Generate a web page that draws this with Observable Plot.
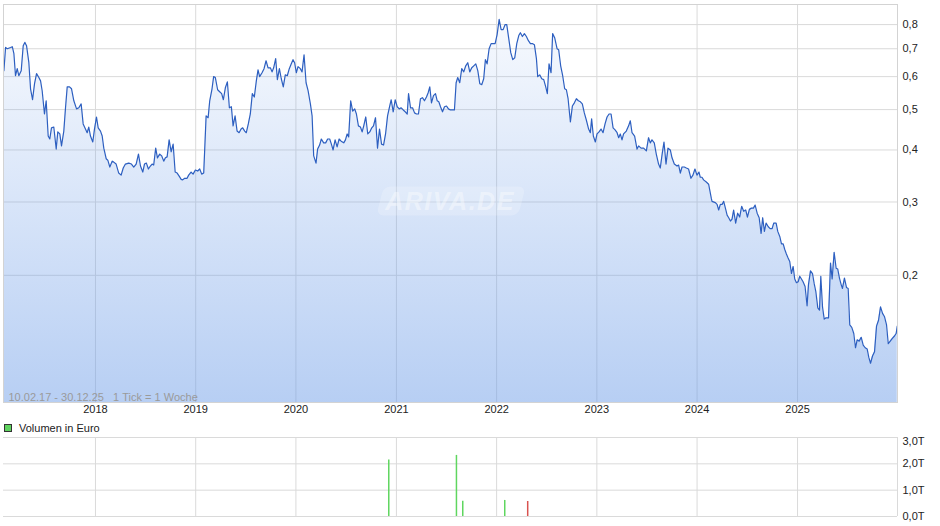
<!DOCTYPE html>
<html><head><meta charset="utf-8">
<script src="https://cdn.jsdelivr.net/npm/d3@7"></script>
<script src="https://cdn.jsdelivr.net/npm/@observablehq/plot@0.6"></script>
<style>
body{margin:0;background:#fff;font-family:"Liberation Sans",Arial,sans-serif;}
#wrap{position:relative;width:940px;height:526px;overflow:hidden}
#main{position:absolute;left:0;top:0}
#legend{position:absolute;left:4px;top:421px;height:14px;font-size:11px;color:#222;display:flex;align-items:center;z-index:2}
#legend .sw{display:inline-block;width:6px;height:6px;background:#5fd35f;border:1px solid #333;margin-right:7px}
#vol{position:absolute;left:0;top:430px;z-index:1}
</style></head><body>
<div id="wrap"><div id="main"></div><div id="vol"></div><div id="legend"><span class="sw"></span><span id="legtext"></span></div></div>
<script>
// ---- data (decimal year, price in EUR) ----
const priceSeries = [
[2017.086,0.620],[2017.103,0.705],[2017.120,0.700],[2017.153,0.705],[2017.170,0.708],[2017.186,0.681],[2017.202,0.603],[2017.219,0.627],[2017.235,0.603],[2017.259,0.620],
[2017.279,0.712],[2017.295,0.725],[2017.312,0.712],[2017.335,0.649],[2017.352,0.561],[2017.372,0.528],[2017.392,0.577],[2017.412,0.610],[2017.435,0.597],[2017.452,0.586],
[2017.468,0.555],[2017.491,0.488],[2017.508,0.525],[2017.528,0.432],[2017.544,0.425],[2017.561,0.452],[2017.584,0.454],[2017.608,0.402],[2017.624,0.442],[2017.644,0.437],
[2017.661,0.409],[2017.684,0.444],[2017.701,0.505],[2017.718,0.567],[2017.741,0.567],[2017.761,0.561],[2017.784,0.525],[2017.811,0.502],[2017.834,0.505],[2017.857,0.516],
[2017.877,0.462],[2017.900,0.449],[2017.917,0.440],[2017.933,0.454],[2017.950,0.432],[2017.973,0.418],[2017.990,0.449],[2018.010,0.480],[2018.027,0.452],[2018.050,0.444],
[2018.067,0.432],[2018.083,0.404],[2018.107,0.381],[2018.123,0.378],[2018.143,0.364],[2018.167,0.376],[2018.182,0.374],[2018.206,0.370],[2018.232,0.352],[2018.256,0.348],
[2018.277,0.362],[2018.299,0.370],[2018.332,0.372],[2018.359,0.370],[2018.382,0.364],[2018.406,0.370],[2018.429,0.391],[2018.449,0.366],[2018.472,0.354],[2018.489,0.370],
[2018.508,0.372],[2018.528,0.360],[2018.548,0.366],[2018.565,0.370],[2018.581,0.368],[2018.601,0.404],[2018.618,0.383],[2018.641,0.391],[2018.661,0.387],[2018.681,0.376],
[2018.698,0.383],[2018.715,0.385],[2018.735,0.423],[2018.755,0.396],[2018.775,0.413],[2018.795,0.354],[2018.815,0.352],[2018.835,0.346],[2018.855,0.340],[2018.870,0.339],
[2018.890,0.342],[2018.914,0.342],[2018.930,0.348],[2018.954,0.354],[2018.974,0.350],[2018.997,0.358],[2019.020,0.356],[2019.040,0.360],[2019.060,0.350],[2019.080,0.352],
[2019.104,0.483],[2019.124,0.478],[2019.140,0.525],[2019.163,0.561],[2019.179,0.600],[2019.196,0.597],[2019.219,0.558],[2019.239,0.552],[2019.259,0.546],[2019.276,0.528],
[2019.296,0.564],[2019.316,0.583],[2019.336,0.505],[2019.356,0.508],[2019.373,0.457],[2019.393,0.483],[2019.413,0.444],[2019.433,0.440],[2019.453,0.449],[2019.469,0.452],
[2019.489,0.444],[2019.505,0.440],[2019.525,0.462],[2019.545,0.488],[2019.565,0.546],[2019.585,0.536],[2019.605,0.586],[2019.622,0.623],[2019.638,0.600],[2019.662,0.613],
[2019.682,0.627],[2019.702,0.655],[2019.722,0.630],[2019.745,0.630],[2019.762,0.616],[2019.778,0.630],[2019.798,0.663],[2019.815,0.590],[2019.835,0.627],[2019.854,0.593],
[2019.874,0.567],[2019.894,0.606],[2019.914,0.603],[2019.934,0.627],[2019.954,0.644],[2019.971,0.659],[2019.987,0.648],[2020.004,0.613],[2020.021,0.634],[2020.044,0.627],
[2020.061,0.616],[2020.081,0.677],[2020.101,0.580],[2020.121,0.555],[2020.144,0.516],[2020.161,0.483],[2020.177,0.387],[2020.200,0.372],[2020.216,0.402],[2020.236,0.411],
[2020.253,0.425],[2020.276,0.416],[2020.296,0.416],[2020.316,0.425],[2020.336,0.425],[2020.353,0.413],[2020.370,0.400],[2020.390,0.423],[2020.410,0.407],[2020.430,0.425],
[2020.450,0.420],[2020.476,0.416],[2020.493,0.423],[2020.510,0.437],[2020.525,0.430],[2020.545,0.525],[2020.565,0.496],[2020.585,0.502],[2020.602,0.488],[2020.622,0.457],
[2020.642,0.454],[2020.659,0.442],[2020.675,0.457],[2020.695,0.480],[2020.715,0.437],[2020.735,0.442],[2020.755,0.452],[2020.772,0.457],[2020.792,0.478],[2020.812,0.404],
[2020.832,0.449],[2020.852,0.413],[2020.872,0.411],[2020.892,0.437],[2020.912,0.483],[2020.932,0.508],[2020.948,0.528],[2020.968,0.494],[2020.988,0.528],[2021.008,0.508],
[2021.028,0.502],[2021.048,0.505],[2021.068,0.499],[2021.088,0.494],[2021.108,0.488],[2021.121,0.546],[2021.141,0.505],[2021.161,0.505],[2021.181,0.491],[2021.200,0.488],
[2021.220,0.488],[2021.240,0.531],[2021.260,0.534],[2021.280,0.525],[2021.300,0.536],[2021.317,0.549],[2021.333,0.567],[2021.350,0.519],[2021.370,0.540],[2021.390,0.546],
[2021.407,0.525],[2021.423,0.522],[2021.440,0.508],[2021.460,0.494],[2021.480,0.508],[2021.500,0.510],[2021.519,0.502],[2021.539,0.499],[2021.559,0.499],[2021.579,0.499],
[2021.596,0.580],[2021.612,0.597],[2021.632,0.580],[2021.652,0.627],[2021.672,0.616],[2021.692,0.637],[2021.712,0.648],[2021.732,0.616],[2021.752,0.630],[2021.772,0.637],
[2021.792,0.644],[2021.812,0.620],[2021.832,0.577],[2021.852,0.574],[2021.871,0.593],[2021.888,0.659],[2021.905,0.644],[2021.925,0.700],[2021.945,0.720],[2021.965,0.720],
[2021.985,0.720],[2022.005,0.757],[2022.025,0.823],[2022.045,0.778],[2022.065,0.778],[2022.085,0.800],[2022.101,0.800],[2022.121,0.740],[2022.141,0.685],[2022.161,0.659],
[2022.181,0.666],[2022.201,0.720],[2022.221,0.753],[2022.237,0.765],[2022.257,0.749],[2022.277,0.761],[2022.297,0.749],[2022.317,0.732],[2022.337,0.720],[2022.360,0.720],
[2022.377,0.716],[2022.397,0.663],[2022.410,0.600],[2022.430,0.606],[2022.450,0.593],[2022.470,0.590],[2022.490,0.567],[2022.506,0.546],[2022.523,0.644],[2022.543,0.613],
[2022.559,0.761],[2022.579,0.744],[2022.603,0.700],[2022.619,0.696],[2022.639,0.637],[2022.659,0.603],[2022.679,0.561],[2022.696,0.558],[2022.713,0.531],[2022.736,0.467],
[2022.756,0.510],[2022.776,0.519],[2022.796,0.531],[2022.816,0.525],[2022.836,0.522],[2022.855,0.516],[2022.875,0.491],[2022.895,0.472],[2022.918,0.449],[2022.935,0.440],
[2022.948,0.475],[2022.965,0.432],[2022.985,0.418],[2023.002,0.437],[2023.022,0.442],[2023.042,0.449],[2023.062,0.440],[2023.082,0.462],[2023.102,0.480],[2023.122,0.488],
[2023.142,0.488],[2023.162,0.452],[2023.182,0.447],[2023.202,0.440],[2023.218,0.428],[2023.234,0.437],[2023.251,0.423],[2023.267,0.437],[2023.294,0.444],[2023.317,0.457],
[2023.334,0.470],[2023.351,0.440],[2023.377,0.432],[2023.401,0.402],[2023.417,0.409],[2023.441,0.404],[2023.467,0.404],[2023.494,0.398],[2023.516,0.428],[2023.533,0.416],
[2023.550,0.423],[2023.573,0.416],[2023.593,0.391],[2023.616,0.370],[2023.633,0.362],[2023.653,0.393],[2023.670,0.418],[2023.690,0.370],[2023.710,0.404],[2023.733,0.400],
[2023.750,0.383],[2023.773,0.370],[2023.800,0.366],[2023.816,0.368],[2023.833,0.352],[2023.850,0.364],[2023.873,0.364],[2023.893,0.362],[2023.915,0.360],[2023.939,0.342],
[2023.959,0.348],[2023.979,0.360],[2023.999,0.348],[2024.019,0.354],[2024.032,0.344],[2024.049,0.344],[2024.065,0.339],[2024.092,0.335],[2024.115,0.331],[2024.142,0.306],
[2024.149,0.301],[2024.182,0.299],[2024.199,0.296],[2024.215,0.287],[2024.232,0.296],[2024.249,0.296],[2024.265,0.301],[2024.282,0.290],[2024.299,0.279],[2024.315,0.275],
[2024.332,0.270],[2024.348,0.273],[2024.364,0.287],[2024.384,0.267],[2024.404,0.282],[2024.424,0.276],[2024.444,0.293],[2024.464,0.285],[2024.484,0.287],[2024.501,0.276],
[2024.521,0.288],[2024.541,0.290],[2024.561,0.290],[2024.578,0.295],[2024.598,0.282],[2024.618,0.275],[2024.637,0.252],[2024.653,0.275],[2024.670,0.255],[2024.687,0.267],
[2024.707,0.262],[2024.727,0.259],[2024.747,0.259],[2024.763,0.267],[2024.787,0.267],[2024.803,0.255],[2024.823,0.248],[2024.840,0.238],[2024.857,0.238],[2024.872,0.231],
[2024.889,0.225],[2024.906,0.220],[2024.922,0.216],[2024.939,0.202],[2024.956,0.210],[2024.972,0.196],[2024.989,0.192],[2025.006,0.193],[2025.022,0.199],[2025.039,0.196],
[2025.055,0.193],[2025.075,0.188],[2025.095,0.169],[2025.109,0.190],[2025.129,0.205],[2025.149,0.202],[2025.166,0.191],[2025.182,0.183],[2025.202,0.167],[2025.219,0.165],
[2025.232,0.199],[2025.249,0.168],[2025.266,0.157],[2025.282,0.158],[2025.309,0.158],[2025.329,0.214],[2025.345,0.196],[2025.365,0.227],[2025.385,0.208],[2025.401,0.207],
[2025.418,0.197],[2025.435,0.190],[2025.448,0.186],[2025.468,0.197],[2025.488,0.187],[2025.505,0.186],[2025.521,0.152],[2025.541,0.150],[2025.561,0.145],[2025.578,0.134],
[2025.595,0.140],[2025.615,0.139],[2025.635,0.142],[2025.655,0.136],[2025.675,0.134],[2025.695,0.133],[2025.711,0.127],[2025.728,0.123],[2025.748,0.128],[2025.768,0.131],
[2025.788,0.151],[2025.808,0.156],[2025.828,0.168],[2025.848,0.162],[2025.868,0.159],[2025.888,0.152],[2025.905,0.137],[2025.925,0.139],[2025.944,0.141],[2025.967,0.143],
[2025.984,0.145],[2025.995,0.151]
];
const yTicks = [0.2, 0.3, 0.4, 0.5, 0.6, 0.7, 0.8];
const yDomain = [0.099, 0.894];
const yearTicks = [2018, 2019, 2020, 2021, 2022, 2023, 2024, 2025];
const xDomain = ["2017-01-31", "2025-12-31"];
const volDates = [2020.924, 2021.599, 2021.662, 2022.081, 2022.310];
const volValues = [2.15, 2.32, 0.58, 0.61, 0.57];   // in T (Tausend Euro)
const volDirs = ["up", "up", "up", "up", "down"];
const volTicks = [0, 1, 2, 3];
const rangeLabel = "10.02.17 - 30.12.25   1 Tick = 1 Woche";
const legendLabel = "Volumen in Euro";
const watermark = "ARIVA.DE";

// ---- helpers ----
function decYear(t) {
  const y = Math.floor(t);
  const a = Date.UTC(y, 0, 1), b = Date.UTC(y + 1, 0, 1);
  return new Date(a + (t - y) * (b - a));
}
const ns = "http://www.w3.org/2000/svg";
function el(name, attrs) {
  const e = document.createElementNS(ns, name);
  for (const k in attrs) e.setAttribute(k, attrs[k]);
  return e;
}
const price = priceSeries.map(([t, v]) => ({date: decYear(t), value: v}));
const yearDates = yearTicks.map(y => new Date(Date.UTC(y, 0, 1)));
const xDom = xDomain.map(d => new Date(d + "T00:00:00Z"));
const vol = volDates.map((t, i) => ({date: decYear(t), value: volValues[i], color: volDirs[i] === "up" ? "#5fd65f" : "#d9534f"}));
const comma1 = d => d.toFixed(1).replace(".", ",");
const grid = "#dadada";
const font = "Liberation Sans, Arial, sans-serif";

// ---- main chart ----
const W = 940, H = 420, mT = 4, mB = 18, mL = 3, mR = 43;
const gradientDefs = (index, scales, values, dim) => {
  const defs = el("defs", {});
  const g = el("linearGradient", {id: "areaGrad", gradientUnits: "userSpaceOnUse", x1: 0, x2: 0, y1: dim.marginTop, y2: dim.height - dim.marginBottom});
  g.appendChild(el("stop", {offset: "0%", "stop-color": "#6f9ee8", "stop-opacity": 0.04}));
  g.appendChild(el("stop", {offset: "100%", "stop-color": "#6f9ee8", "stop-opacity": 0.5}));
  defs.appendChild(g);
  return defs;
};
const watermarkMark = (index, scales, values, dim) => {
  const cx = (dim.marginLeft + dim.width - dim.marginRight) / 2;
  const cy = (dim.marginTop + dim.height - dim.marginBottom) / 2 - 2;
  const g = el("g", {transform: `translate(${cx},${cy})`});
  g.appendChild(el("rect", {x: -70, y: -14.5, width: 142, height: 29, rx: 7, fill: "#ffffff", "fill-opacity": 0.2, transform: "skewX(-14)"}));
  const t = el("text", {x: 0, y: 0, "text-anchor": "middle", "dominant-baseline": "central", "font-size": 25, "font-weight": "bold", "font-style": "italic", "letter-spacing": 1.5, fill: "#ffffff", "fill-opacity": 0.4, "font-family": font});
  t.textContent = watermark;
  g.appendChild(t);
  return g;
};

const main = Plot.plot({
  width: W, height: H, marginTop: mT, marginBottom: mB, marginLeft: mL, marginRight: mR,
  style: {fontFamily: font, fontSize: "11px", color: "#222", background: "#fff"},
  x: {type: "utc", domain: xDom, label: null},
  y: {type: "log", domain: yDomain, label: null},
  marks: [
    gradientDefs,
    Plot.gridX(yearDates, {stroke: grid, strokeOpacity: 1}),
    Plot.gridY(yTicks, {stroke: grid, strokeOpacity: 1}),
    Plot.areaY(price, {x: "date", y1: d => yDomain[0], y2: "value", fill: "url(#areaGrad)"}),
    watermarkMark,
    Plot.lineY(price, {x: "date", y: "value", stroke: "#2d5fc0", strokeWidth: 1.2}),
    Plot.frame({stroke: "#d3d3d3"}),
    Plot.text([rangeLabel.replace(/ /g, "\u00a0")], {frameAnchor: "bottom-left", text: d => d, dx: 5, dy: -2, textAnchor: "start", lineAnchor: "bottom", fill: "#9a9a9a", fontSize: 11}),
    Plot.axisY(yTicks, {anchor: "right", label: null, tickSize: 0, tickPadding: 5, tickFormat: comma1, fontSize: 11}),
    Plot.axisX(yearDates, {anchor: "bottom", label: null, tickSize: 0, tickPadding: 3, tickFormat: d3.utcFormat("%Y"), fontSize: 11})
  ]
});
document.getElementById("main").appendChild(main);
document.getElementById("legtext").textContent = legendLabel;

// ---- volume chart ----
const VH = 96;
const volPlot = Plot.plot({
  width: W, height: VH, marginTop: 7, marginBottom: 10, marginLeft: mL, marginRight: mR,
  style: {fontFamily: font, fontSize: "11px", color: "#222", background: "transparent"},
  x: {type: "utc", domain: xDom, axis: null, label: null},
  y: {domain: [volTicks[0], volTicks[volTicks.length - 1]], label: null},
  color: {type: "identity"},
  marks: [
    Plot.gridX(yearDates, {stroke: grid, strokeOpacity: 1}),
    Plot.gridY(volTicks, {stroke: grid, strokeOpacity: 1}),
    Plot.ruleX([xDom[1]], {stroke: grid}),
    Plot.ruleX(vol, {x: "date", y1: d => 0, y2: "value", stroke: "color", strokeWidth: 1.5}),
    Plot.axisY(volTicks.slice(0, -1), {anchor: "right", label: null, tickSize: 0, tickPadding: 5, tickFormat: d => comma1(d) + "T", fontSize: 11}),
    Plot.axisY(volTicks.slice(-1), {anchor: "right", label: null, tickSize: 0, tickPadding: 5, dy: 4, tickFormat: d => comma1(d) + "T", fontSize: 11})
  ]
});
document.getElementById("vol").appendChild(volPlot);
</script>
</body></html>
